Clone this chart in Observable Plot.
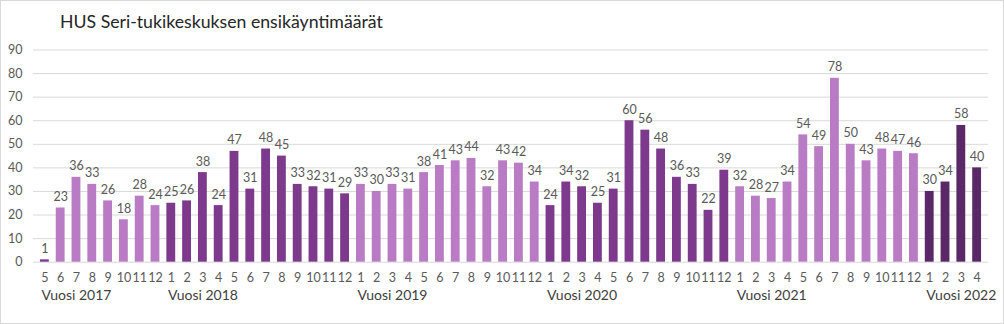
<!DOCTYPE html>
<html><head><meta charset="utf-8">
<script src="https://cdn.jsdelivr.net/npm/d3@7"></script>
<script src="https://cdn.jsdelivr.net/npm/@observablehq/plot@0.6"></script>
<style>
body{margin:0;background:#fff;}
#wrap{position:relative;width:1004px;height:324px;font-family:Lato,"Open Sans",sans-serif;outline:1px solid #d9d9d9;outline-offset:-1px;}
#title{position:absolute;left:60px;top:11px;font-size:17.7px;color:#262626;white-space:nowrap;}
#wrap svg{position:absolute;left:0;top:0;}
</style>
</head><body>
<div id="wrap"><div id="title">HUS Seri-tukikeskuksen ensikäyntimäärät</div></div>
<script>
const years = [2017, 2018, 2019, 2020, 2021, 2022];
const firstMonth = [5, 1, 1, 1, 1, 1];
const values2017 = [1, 23, 36, 33, 26, 18, 28, 24];
const values2018 = [25, 26, 38, 24, 47, 31, 48, 45, 33, 32, 31, 29];
const values2019 = [33, 30, 33, 31, 38, 41, 43, 44, 32, 43, 42, 34];
const values2020 = [24, 34, 32, 25, 31, 60, 56, 48, 36, 33, 22, 39];
const values2021 = [32, 28, 27, 34, 54, 49, 78, 50, 43, 48, 47, 46];
const values2022 = [30, 34, 58, 40];
const yearShade = ["light", "dark", "light", "dark", "light", "darkest"];
const yearLabels = ["Vuosi 2017", "Vuosi 2018", "Vuosi 2019", "Vuosi 2020", "Vuosi 2021", "Vuosi 2022"];
const yTicks = [0, 10, 20, 30, 40, 50, 60, 70, 80, 90];

const allValues = [values2017, values2018, values2019, values2020, values2021, values2022];
const data = [];
years.forEach((yr, i) => {
  allValues[i].forEach((v, j) => {
    const m = firstMonth[i] + j;
    // the very first bar (May 2017) is drawn in the darker shade in the original
    const shade = (i === 0 && j === 0) ? "dark" : yearShade[i];
    data.push({key: `${yr}-${m}`, year: yr, month: m, value: v, shade});
  });
});
const keys = data.map(d => d.key);
const labelData = years.map((yr, i) => ({key: keys[data.findIndex(d => d.year === yr) + 2], text: yearLabels[i]}));

const chart = Plot.plot({
  width: 1004,
  height: 324,
  marginTop: 49.5,
  marginBottom: 62.3,
  marginLeft: 33,
  marginRight: 16,
  style: {fontFamily: "Lato, 'Open Sans', sans-serif", background: "transparent", overflow: "visible"},
  x: {type: "band", domain: keys, padding: 0.44, axis: null},
  y: {domain: [0, 90], axis: null},
  color: {domain: ["light", "dark", "darkest"], range: ["#b97cc4", "#7d3a8c", "#5a2866"]},
  marks: [
    Plot.gridY(yTicks, {stroke: "#d9d9d9", strokeOpacity: 1, strokeWidth: 1}),
    Plot.barY(data, {x: "key", y: "value", fill: "shade"}),
    Plot.text(data, {x: "key", y: "value", text: d => String(d.value), dy: -11, fill: "#595959", fontSize: 12.5}),
    Plot.axisY(yTicks, {tickSize: 0, tickPadding: 11, fontSize: 12.5, color: "#595959", label: null}),
    Plot.axisX({tickSize: 0, tickPadding: 11, fontSize: 12.5, color: "#595959", label: null, tickFormat: k => k.split("-")[1]}),
    Plot.text(labelData, {x: "key", text: "text", frameAnchor: "bottom", dy: 38, fontSize: 14, fill: "#404040"})
  ]
});
document.getElementById("wrap").appendChild(chart);
</script>
</body></html>
